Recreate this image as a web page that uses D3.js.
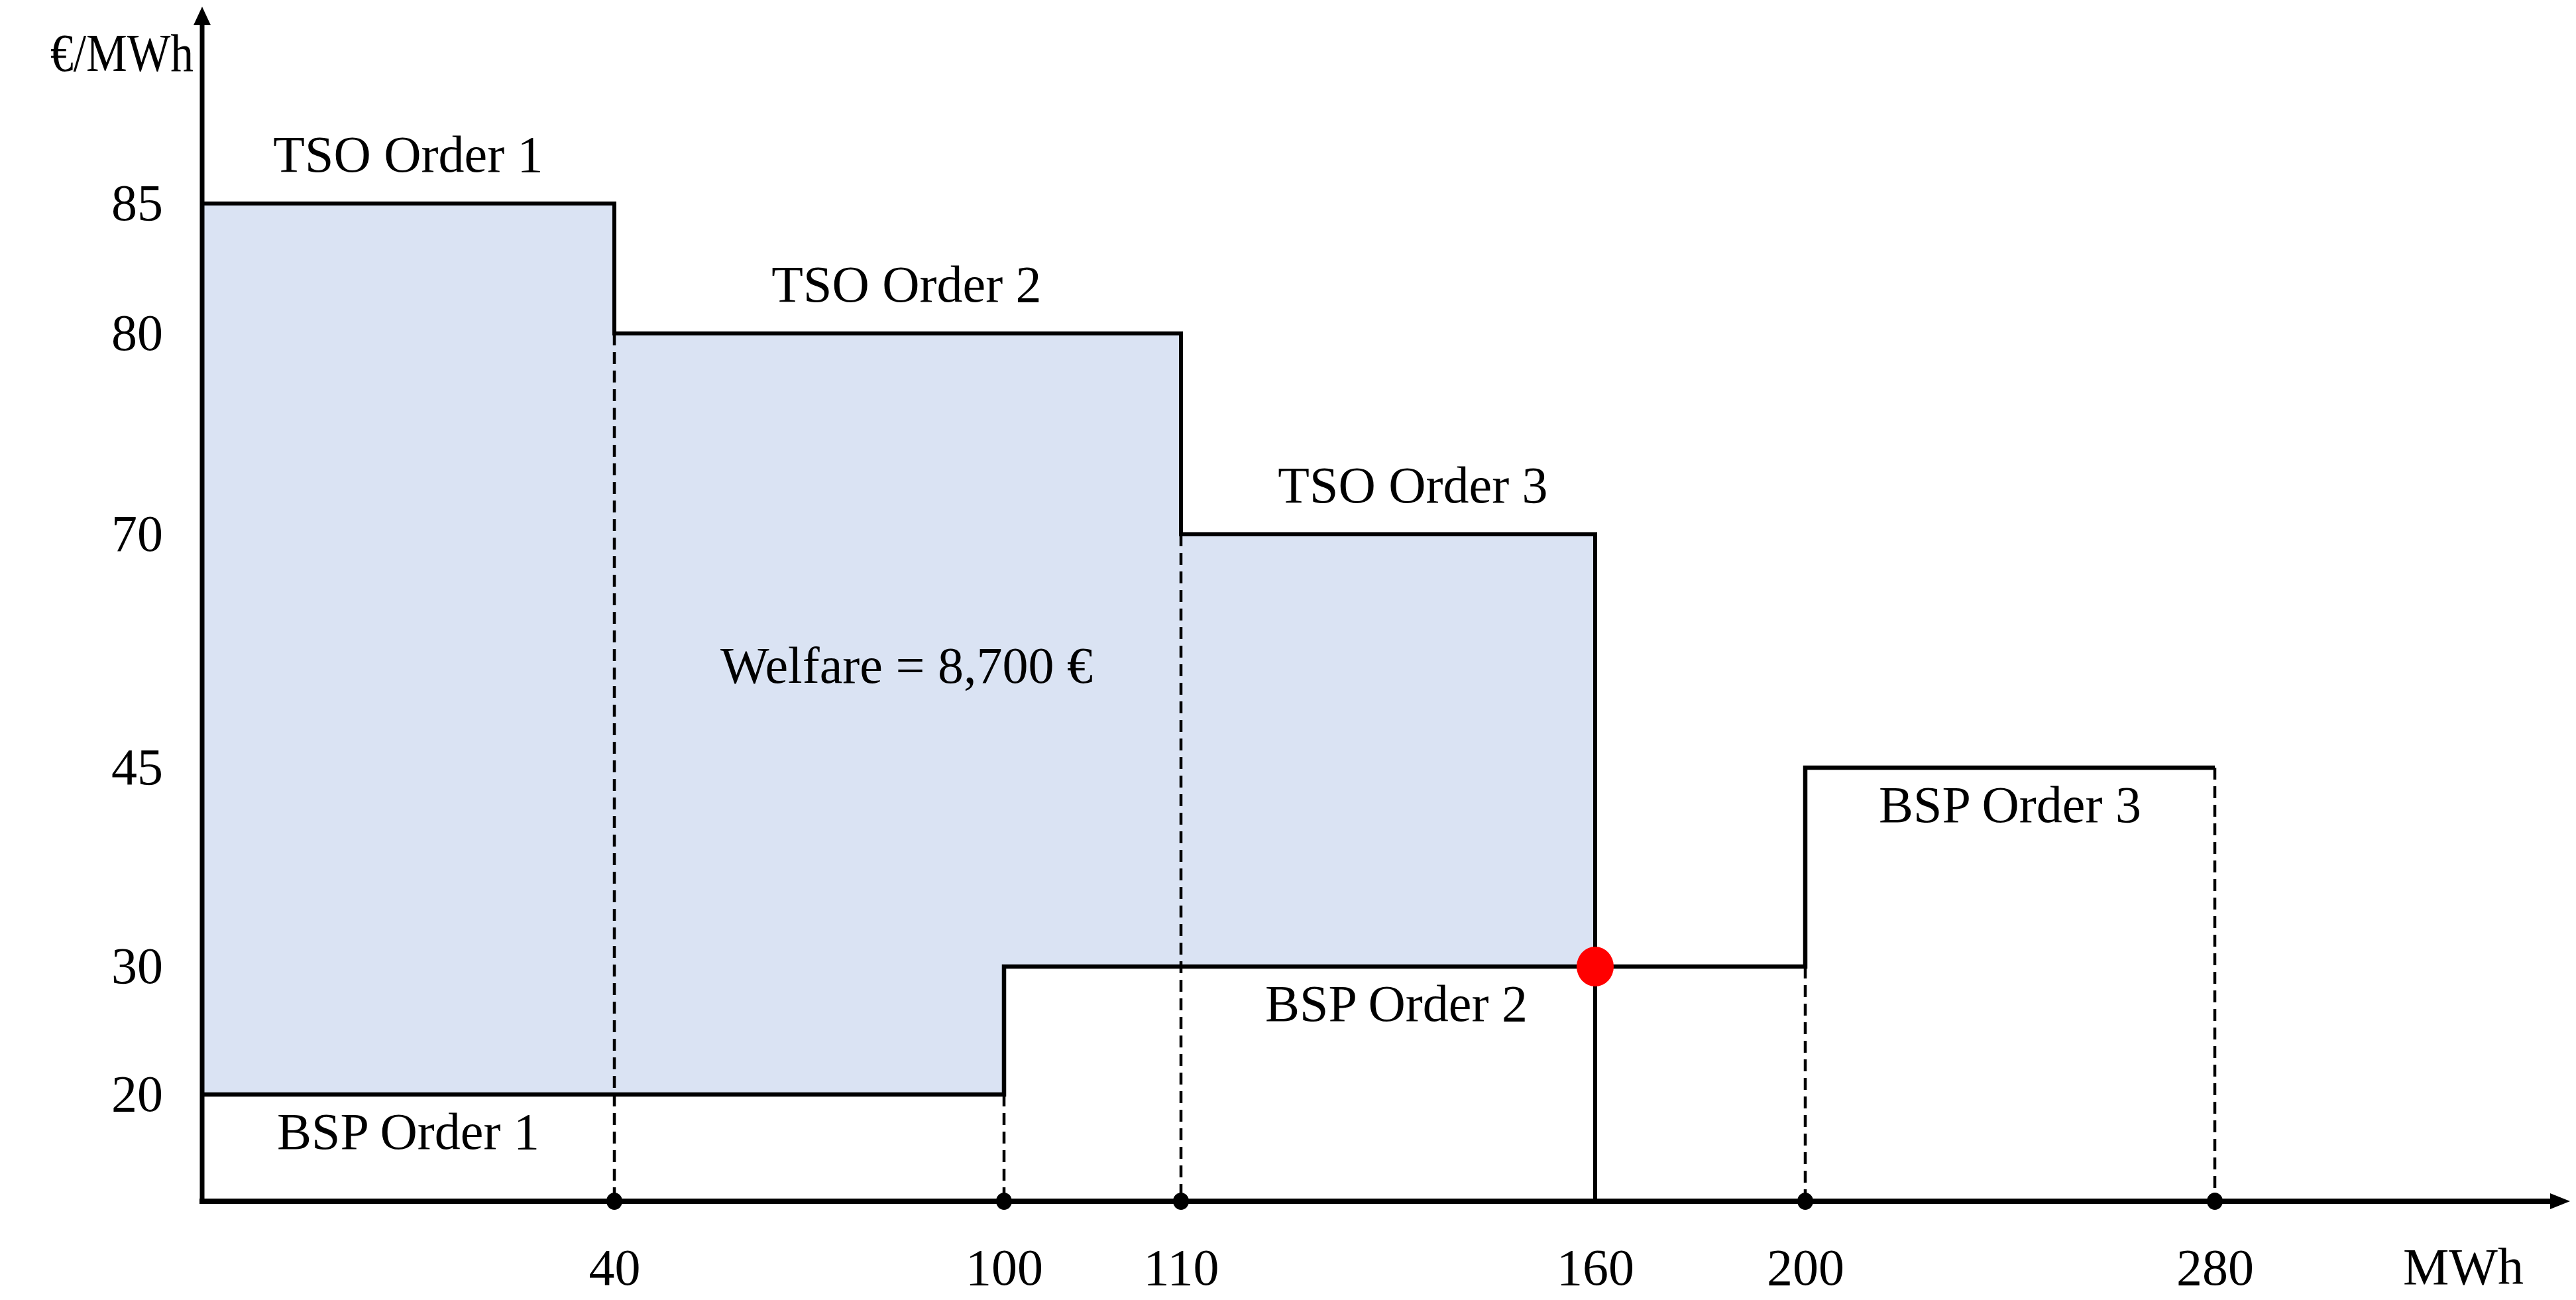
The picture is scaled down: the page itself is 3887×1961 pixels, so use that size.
<!DOCTYPE html>
<html>
<head>
<meta charset="utf-8">
<script src="https://cdn.jsdelivr.net/npm/d3@7"></script>
<style>
  body { margin: 0; background: #fff; }
  text { font-family: "Liberation Serif", "DejaVu Serif", serif; fill: #000; }
</style>
</head>
<body>
<svg id="chart" width="3887" height="1961"></svg>
<script>
// orders (volume in MWh, price in €/MWh)
var tsoNames = ["TSO Order 1", "TSO Order 2", "TSO Order 3"];
var tsoVolumes = [40, 70, 50];
var tsoPrices = [85, 80, 70];

var bspNames = ["BSP Order 1", "BSP Order 2", "BSP Order 3"];
var bspVolumes = [100, 100, 80];
var bspPrices = [20, 30, 45];

// where the order labels sit, in MWh
var tsoLabelAt = [20, 85, 138];
var bspLabelAt = [20, 136, 240];

var clearing = {qty: 160, price: 30};
var welfareText = "Welfare = 8,700 €";
var welfareAt = [85, 56];

var xTicks = [40, 100, 110, 160, 200, 280];
var yTicks = [20, 30, 45, 70, 80, 85];

// cumulative breakpoints
function cumul(vols){
  var s = 0, out = [0];
  vols.forEach(function(v){ s += v; out.push(s); });
  return out;
}
var tsoQty = cumul(tsoVolumes);   // 0,40,110,160
var bspQty = cumul(bspVolumes);   // 0,100,200,280

var svg = d3.select("#chart");

// the drawing is schematic: both axes are piecewise
var x = d3.scaleLinear()
  .domain([0, 40, 100, 110, 160, 200, 280])
  .range([305, 927, 1515, 1782, 2407, 2724, 3342]);
var y = d3.scaleLinear()
  .domain([0, 20, 30, 45, 70, 80, 85])
  .range([1812, 1651, 1458, 1158, 806, 503, 307]);

// welfare area between demand and supply up to the clearing volume
var areaPts = d3.sort(Array.from(new Set(tsoQty.concat(bspQty).filter(function(q){ return q <= clearing.qty; }))));
function stepVal(qtys, prices, q){
  var i = d3.bisectRight(qtys, q) - 1;
  return prices[Math.min(i, prices.length - 1)];
}
var area = d3.area()
  .curve(d3.curveStepAfter)
  .x(function(q){ return x(q); })
  .y0(function(q){ return y(stepVal(bspQty, bspPrices, q)); })
  .y1(function(q){ return y(stepVal(tsoQty, tsoPrices, q)); });
svg.append("path")
  .attr("d", area(areaPts))
  .attr("fill", "#dae3f3");

// dashed drop lines
var drops = [];
tsoQty.slice(1, -1).forEach(function(q, i){ drops.push([q, tsoPrices[i + 1]]); });
bspQty.slice(1).forEach(function(q, i){ drops.push([q, bspPrices[i]]); });
svg.selectAll(".drop").data(drops).enter().append("line")
  .attr("class", "drop")
  .attr("x1", function(d){ return x(d[0]); })
  .attr("x2", function(d){ return x(d[0]); })
  .attr("y1", function(d){ return y(d[1]); })
  .attr("y2", y(0))
  .attr("stroke", "#000")
  .attr("stroke-width", 4.5)
  .attr("stroke-dasharray", "18,10");

// step curves
var line = d3.line().curve(d3.curveStepAfter)
  .x(function(d){ return x(d[0]); })
  .y(function(d){ return y(d[1]); });

var tsoPts = tsoQty.map(function(q, i){ return [q, i < tsoPrices.length ? tsoPrices[i] : 0]; });
var bspPts = bspQty.map(function(q, i){ return [q, bspPrices[Math.min(i, bspPrices.length - 1)]]; });

svg.append("path").attr("d", line(tsoPts))
  .attr("fill", "none").attr("stroke", "#000").attr("stroke-width", 6);
svg.append("path").attr("d", line(bspPts))
  .attr("fill", "none").attr("stroke", "#000").attr("stroke-width", 6.5);

// axes lines with arrows
svg.append("line")
  .attr("x1", x(0)).attr("x2", x(0))
  .attr("y1", y(0) + 4).attr("y2", 32)
  .attr("stroke", "#000").attr("stroke-width", 7);
svg.append("path")
  .attr("d", "M" + (x(0) - 13) + ",38L" + x(0) + ",10L" + (x(0) + 13) + ",38Z")
  .attr("fill", "#000");

svg.append("line")
  .attr("x1", x(0) - 4).attr("x2", 3852)
  .attr("y1", y(0)).attr("y2", y(0))
  .attr("stroke", "#000").attr("stroke-width", 8);
svg.append("path")
  .attr("d", "M3848," + (y(0) - 12) + "L3878," + y(0) + "L3848," + (y(0) + 12) + "Z")
  .attr("fill", "#000");

// dots on the quantity axis
svg.selectAll(".tickdot").data(drops).enter().append("ellipse")
  .attr("class", "tickdot")
  .attr("cx", function(d){ return x(d[0]); })
  .attr("cy", y(0))
  .attr("rx", 12).attr("ry", 13)
  .attr("fill", "#000");

// tick labels via d3 axes
var xAxis = svg.append("g")
  .attr("transform", "translate(0," + y(0) + ")")
  .call(d3.axisBottom(x).tickValues(xTicks).tickSize(0).tickPadding(71));
xAxis.select(".domain").remove();
xAxis.selectAll("text").attr("font-size", 78).attr("font-family", "Liberation Serif");

var yAxis = svg.append("g")
  .attr("transform", "translate(" + x(0) + ",0)")
  .call(d3.axisLeft(y).tickValues(yTicks).tickSize(0));
yAxis.select(".domain").remove();
yAxis.selectAll("text")
  .attr("font-size", 78).attr("font-family", "Liberation Serif")
  .attr("text-anchor", "middle")
  .attr("x", -98);

// axis titles
svg.append("text").attr("x", 76).attr("y", 107)
  .attr("font-size", 80)
  .attr("textLength", 216).attr("lengthAdjust", "spacingAndGlyphs")
  .text("€/MWh");
svg.append("text").attr("x", 3717).attr("y", 1937)
  .attr("text-anchor", "middle").attr("font-size", 78).text("MWh");

// order labels
svg.selectAll(".tsolab").data(tsoNames).enter().append("text")
  .attr("class", "tsolab")
  .attr("x", function(d, i){ return x(tsoLabelAt[i]); })
  .attr("y", function(d, i){ return y(tsoPrices[i]) - 48; })
  .attr("text-anchor", "middle").attr("font-size", 78)
  .text(function(d){ return d; });

svg.selectAll(".bsplab").data(bspNames).enter().append("text")
  .attr("class", "bsplab")
  .attr("x", function(d, i){ return x(bspLabelAt[i]); })
  .attr("y", function(d, i){ return y(bspPrices[i]) + 82; })
  .attr("text-anchor", "middle").attr("font-size", 78)
  .text(function(d){ return d; });

svg.append("text")
  .attr("x", x(welfareAt[0])).attr("y", y(welfareAt[1]))
  .attr("dy", "0.35em")
  .attr("text-anchor", "middle").attr("font-size", 78)
  .text(welfareText);

// clearing point
svg.append("ellipse")
  .attr("cx", x(clearing.qty)).attr("cy", y(clearing.price))
  .attr("rx", 28).attr("ry", 30)
  .attr("fill", "#ff0000");
</script>
</body>
</html>
